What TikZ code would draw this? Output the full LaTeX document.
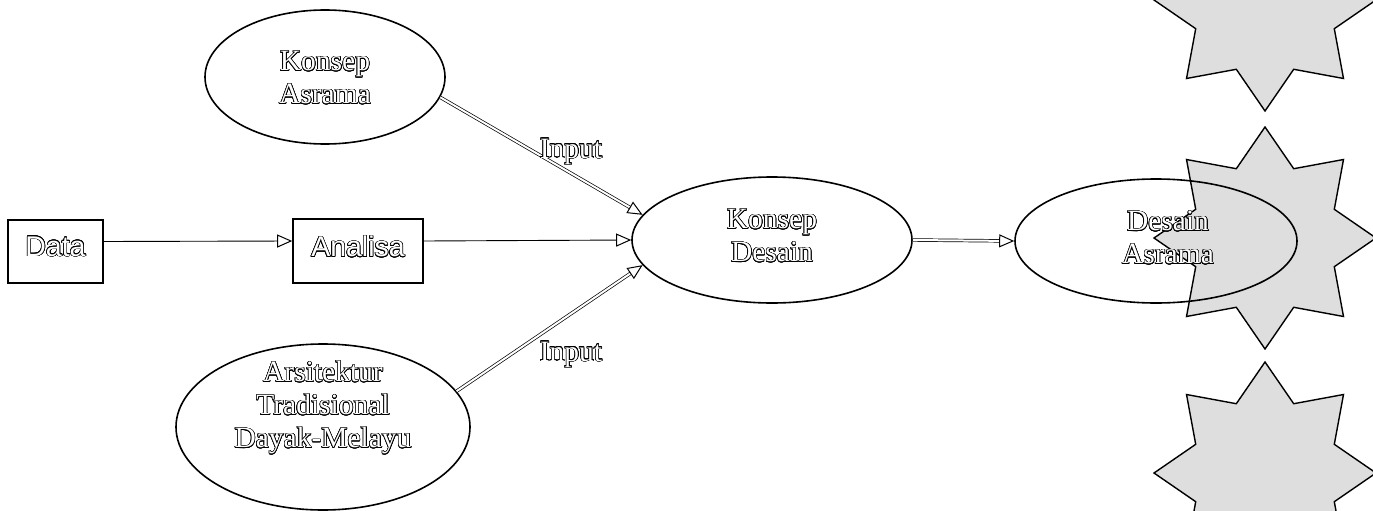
\documentclass[tikz,border=0pt]{standalone}
\usepackage{fontspec}
\setmainfont{Liberation Serif}
\newfontfamily\arialfont{Liberation Sans}
\usepackage[copies]{contour}
\usetikzlibrary{shapes.geometric,arrows.meta}
\contourlength{0.65pt}
\contournumber{20}
% outlined lettering: white glyphs with a thin black rim
\newcommand{\hollow}[1]{\textcolor{white}{\contour{black}{#1}}}

\begin{document}
\begin{tikzpicture}[x=1pt,y=-1pt,
  oval/.style={ellipse, draw, line width=1.6pt, inner sep=0pt},
  box/.style={rectangle, draw, line width=1.6pt, inner sep=0pt},
  words/.style={font=\fontsize{29.5}{33}\selectfont, align=center, inner sep=0pt},
  sanswords/.style={font=\arialfont\fontsize{28.5}{33}\selectfont, inner sep=0pt},
  burst/.style={draw, line width=1.4pt, line join=miter, fill=black!13},
  tip/.style={-{Triangle[open,length=15pt,width=13pt,line width=1pt]}},
  plain/.style={line width=0.9pt, tip},
  feed/.style={double, double distance=2pt, line width=0.7pt, tip},
]
\useasboundingbox (0,0) rectangle (1373,511);

% decorative eight-pointed bursts on the right (outer radius 111, inner 75)
\foreach \cy in {0,238,473} {
  \begin{scope}[shift={(1265,\cy)}]
    \draw[burst] (90:111)
      \foreach \k in {0,...,7} { -- ({112.5+45*\k}:75) -- ({135+45*\k}:111) } -- cycle;
  \end{scope}
}

% boxes
\node[box, minimum width=95pt, minimum height=63pt] (data) at (55.5,251.5) {};
\node[sanswords] (datatext) at (55.5,247) {\hollow{Data}};
\node[box, minimum width=130pt, minimum height=64pt] (an) at (358,251) {};
\node[sanswords] (antext) at (358,247) {\hollow{Analisa}};

% ellipses
\node[oval, minimum width=240pt, minimum height=134pt] (ka) at (325,77) {};
\node[words] (katext) at (325,78) {\hollow{Konsep}\\\hollow{Asrama}};

\node[oval, minimum width=294pt, minimum height=166pt] (ars) at (323,427) {};
\node[words] (arstext) at (323,408) {\hollow{Arsitektur}\\\hollow{Tradisional}\\\hollow{Dayak-Melayu}};

\node[oval, minimum width=280pt, minimum height=126pt] (kd) at (772,240) {};
\node[words] (kdtext) at (772,236) {\hollow{Konsep}\\\hollow{Desain}};

\node[oval, minimum width=282pt, minimum height=124pt] (da) at (1156,241) {};
\node[words] (datext) at (1168,238) {\hollow{Desain}\\\hollow{Asrama}};

% connectors
\draw[plain] ([yshift=10pt]data.east) -- ([yshift=10pt]an.west);
\draw[plain] ([yshift=10pt]an.east) -- (kd.west);
\draw[feed] (ka.-10) -- (kd.169);
\draw[feed] (ars.15) -- (kd.-169);
\draw[feed] (kd.east) -- (da.west);

% labels on the input arrows
\node[words] (in1) at (571,152) {\hollow{Input}};
\node[words] (in2) at (571,355) {\hollow{Input}};
\end{tikzpicture}
\end{document}
